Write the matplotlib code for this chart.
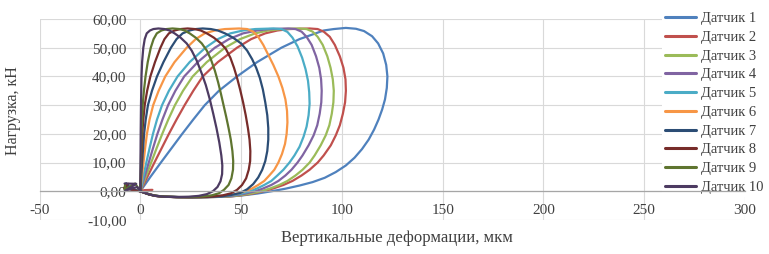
import matplotlib
matplotlib.use('Agg')
import matplotlib.pyplot as plt

plt.rcParams['font.family'] = ['Liberation Serif', 'DejaVu Serif']

# ---------------- data ----------------
labels = ['Датчик 1', 'Датчик 2', 'Датчик 3', 'Датчик 4', 'Датчик 5',
          'Датчик 6', 'Датчик 7', 'Датчик 8', 'Датчик 9', 'Датчик 10']
colors = ['#4F81BD', '#C0504D', '#9BBB59', '#8064A2', '#4BACC6',
          '#F79646', '#2C4D75', '#772C2A', '#5F7530', '#4D3B62']

x_ticks = [-50, 0, 50, 100, 150, 200, 250, 300]
x_tick_labels = ['-50', '0', '50', '100', '150', '200', '250', '300']
y_ticks = [-10, 0, 10, 20, 30, 40, 50, 60]
y_tick_labels = ['-10,00', '0,00', '10,00', '20,00', '30,00', '40,00', '50,00', '60,00']

# (deformation, load) points, one loop per sensor
s1_pts = [(0, 0), (5, 5), (10.2, 10), (15.5, 15), (20.8, 20), (26.3, 25), (32, 30), (39, 35),
          (48, 40), (58, 45), (70, 50), (79, 53), (87, 55), (91, 56), (96, 56.5), (102, 56.9),
          (107, 56.6), (111, 55.8), (115, 54), (118, 51.5), (120.5, 48), (122, 44), (122.6, 40),
          (122.3, 36), (121.4, 32), (120, 28.5), (118.2, 25), (116, 21.5), (113.3, 18),
          (110, 14.7), (106.3, 11.7), (102, 9), (97, 6.7), (91.5, 4.7), (85.5, 3.2), (79, 2),
          (72, 0.9), (65, 0), (58, -0.8), (51, -1.4), (43, -1.9),
          (35, -2.0), (28, -2.1), (20, -2.05), (13, -1.9), (8, -1.6), (4.5, -1.1), (2, -0.5), (0, 0)]

s2_pts = [(6, 0.5), (2, 0.4), (0, 0), (3.5, 5), (7, 10), (10.6, 15), (14.2, 20), (18, 25),
          (22, 30), (26.3, 35), (31, 40), (38.5, 45), (48, 50), (55, 53), (62, 55), (68, 56),
          (74, 56.5), (84, 56.7),
          (88, 56.5), (91, 55.6), (94, 53.8), (96.5, 51), (99, 47), (100.8, 43), (101.8, 39),
          (102, 35), (101.6, 31), (100.5, 27), (99, 23), (97, 19.5), (94.5, 16), (91, 12.5),
          (88, 10), (84, 7.5), (80, 5.5), (75.5, 3.6), (71, 2.2), (66, 1), (61, 0),
          (55, -0.9), (49, -1.5), (43, -1.9),
          (35, -2.0), (28, -2.1), (20, -2.05), (13, -1.9), (8, -1.6), (4.5, -1.1), (2, -0.5), (0, 0)]

s3_pts = [(0, 0), (2.7, 5), (5.4, 10), (8.1, 15), (10.9, 20), (13.9, 25), (17.2, 30), (21.2, 35),
          (26, 40), (33, 45), (42, 50), (49.5, 53), (57, 55), (63.5, 56), (70, 56.5), (79, 56.7),
          (82.5, 56.5), (85.5, 55.6), (88, 53.8), (90.5, 51), (92.8, 47), (94.4, 43), (95.5, 39),
          (96, 35), (95.8, 31), (95, 27), (93.8, 23), (92, 19.5), (89.5, 16), (86.5, 12.5),
          (84, 10), (80.5, 7.5), (77, 5.5), (73, 3.6), (69, 2.2), (64.5, 1), (60, 0),
          (54, -0.9), (48, -1.5), (42, -1.9),
          (35, -2.0), (28, -2.1), (20, -2.05), (13, -1.9), (8, -1.6), (4.5, -1.1), (2, -0.5), (0, 0)]

s4_pts = [(0, 0), (2.1, 5), (4.2, 10), (6.3, 15), (8.5, 20), (11, 25), (13.8, 30), (17.4, 35),
          (21.8, 40), (28.5, 45), (37, 50), (44, 53), (51, 55), (58, 56), (64, 56.5), (73.5, 56.7),
          (77, 56.5), (80, 55.6), (82.5, 53.8), (85, 51), (87.2, 47), (88.8, 43), (89.7, 39),
          (90, 35), (89.8, 31), (89, 27), (87.8, 23), (86, 19.5), (83.5, 16), (80.5, 12.5),
          (78, 10), (75, 7.5), (72, 5.5), (68.5, 3.6), (65, 2.2), (61, 1), (57, 0),
          (51.5, -0.9), (46, -1.5), (40, -1.9),
          (34, -2.0), (27, -2.1), (20, -2.05), (13, -1.9), (8, -1.6), (4.5, -1.1), (2, -0.5), (0, 0)]

s5_pts = [(0, 0), (1.5, 5), (3, 10), (4.6, 15), (6.3, 20), (8.3, 25), (10.8, 30), (14.2, 35),
          (18.5, 40), (24.5, 45), (32.3, 50), (38.5, 53), (44.7, 55), (51, 56), (57, 56.5), (66, 56.7),
          (70, 56.5), (73, 55.5), (75.5, 53.5), (78, 50.5), (80.3, 46.5), (82, 42.5), (83.2, 38.5),
          (83.8, 34.5), (84, 30.5), (83.5, 26.5), (82.5, 22.5), (81, 19), (79, 15.5), (76.5, 12.5),
          (74, 10), (71, 7.5), (68, 5.5), (65, 3.6), (61.5, 2.2), (58, 1), (54.5, 0),
          (49.5, -0.9), (44, -1.5), (38, -1.9),
          (32, -2.0), (26, -2.1), (20, -2.05), (13, -1.9), (8, -1.6), (4.5, -1.1), (2, -0.5), (0, 0)]

s6_pts = [(0, 0), (0.8, 5), (1.6, 10), (2.4, 15), (3.3, 20), (4.6, 25), (6.4, 30), (9.1, 35),
          (12.4, 40), (17, 45), (23, 50), (27.5, 53), (32, 55), (37, 56), (42, 56.5), (49, 56.7),
          (53, 56.5), (56, 55.6), (58.5, 53.8), (61, 51), (63.5, 47.5), (66, 44), (68.5, 40),
          (70.5, 36), (72, 32), (72.8, 28), (73, 24), (72.6, 20), (71.8, 16.5), (70.3, 13),
          (68.5, 10), (66.5, 7.5), (64, 5.5), (61.5, 3.6), (58.5, 2.2), (55.5, 1), (52, 0),
          (47.5, -0.9), (42, -1.5), (36, -1.9),
          (30, -2.05), (24, -2.1), (18, -2.05), (12, -1.9), (7.5, -1.6), (4.5, -1.1), (2, -0.5), (0, 0)]

s7_pts = [(-7, 2.8), (-4, 0.5), (-7.5, 1.5), (0, 0),
          (0.45, 5), (0.9, 10), (1.4, 15), (1.9, 20), (2.7, 25), (3.8, 30), (5.8, 35), (8.3, 40),
          (11.5, 45), (15.2, 50), (18, 53), (21, 55), (24.5, 56), (27.5, 56.5), (31, 56.7),
          (35, 56.5), (38.5, 56), (42, 55), (46, 53.5), (50, 51.5), (53, 49), (55.5, 46),
          (57.5, 43), (59.3, 39.5), (60.8, 35.5), (62, 31), (63, 26.5), (63.5, 22), (63.5, 18),
          (63, 14), (62, 10.5), (60.5, 7.5), (58.5, 4.8), (56, 2.5), (53, 0.7), (49.5, -0.6),
          (45, -1.3), (40, -1.8),
          (33, -2.0), (26, -2.1), (19, -2.05), (12, -1.9), (7.5, -1.6), (4.5, -1.1), (2, -0.5), (0, 0)]

s8_pts = [(-6, 2.6), (-8, 1.2), (-3, 0.3), (0, 0),
          (0.25, 5), (0.5, 10), (0.75, 15), (1.0, 20), (1.5, 25), (2.2, 30), (3.4, 35), (5, 40),
          (7.3, 45), (10, 50), (12, 53), (14.2, 55), (17, 56), (20, 56.5), (23.5, 56.7),
          (27, 56.5), (30, 56), (33, 55), (36.5, 53.5), (40, 51.5), (42.5, 49.5), (44.7, 46.5),
          (46.5, 43), (48, 39.5), (49.5, 35.5), (51, 31), (52.3, 26.5), (53.4, 22), (54.2, 18),
          (54.6, 14), (54.5, 10.5), (53.8, 7.5), (52.5, 4.5), (50.5, 2.2), (48, 0.5), (45, -0.7),
          (41, -1.4), (36, -1.8),
          (30, -2.0), (24, -2.05), (18, -2.0), (12, -1.9), (7.5, -1.6), (4.5, -1.1), (2, -0.5), (0, 0)]

s9_pts = [(-7.5, 2.5), (-7.8, 0.6), (-2.5, 2.7), (-0.5, 0.5), (0, 0),
          (0.15, 5), (0.3, 10), (0.45, 15), (0.6, 20), (0.9, 25), (1.2, 30), (1.8, 35), (2.6, 40),
          (3.7, 45), (5.2, 50), (6.6, 53), (8.2, 55), (10.5, 56), (13, 56.5), (16, 56.7),
          (19.5, 56.5), (22, 56), (24.5, 55), (27.5, 53.5), (30.5, 51.5), (33, 49), (35, 46),
          (37, 42), (38.6, 38), (40, 34), (41.3, 30), (42.6, 26), (43.8, 22), (44.9, 18),
          (45.7, 14), (46.1, 10.5), (46, 7.5), (45.2, 4.5), (43.8, 2.2), (41.5, 0.5), (39, -0.7),
          (35.5, -1.4), (31, -1.8),
          (25, -2.0), (19, -2.0), (13, -1.9), (8, -1.6), (4.5, -1.1), (2, -0.5), (0, 0)]

s10_pts = [(-7.8, 2.7), (-2, 2.6), (-7.5, 0.2), (-1.5, 1.5), (0, 0),
           (0.1, 10), (0.2, 20), (0.35, 30), (0.6, 40), (0.9, 45), (1.5, 50), (2.2, 53), (3.2, 55),
           (4.8, 56), (6.5, 56.5), (9, 56.7),
           (12, 56.5), (14.5, 56), (17, 55), (20, 53.5), (23, 51.5), (25.5, 49), (28, 45.5),
           (30.5, 41), (32.5, 37), (34.5, 32), (36.2, 27), (37.8, 22), (39.2, 17), (40.2, 12.5),
           (40.7, 9), (40.6, 6), (39.8, 3.5), (38.3, 1.5), (36, 0), (33, -1), (29, -1.6), (24, -1.9),
           (18, -2.0), (12, -1.9), (7.5, -1.6), (4.5, -1.1), (2, -0.5), (0, 0)]

series = [s1_pts, s2_pts, s3_pts, s4_pts, s5_pts, s6_pts, s7_pts, s8_pts, s9_pts, s10_pts]

# ---------------- figure ----------------
W, H = 769, 254
fig = plt.figure(figsize=(W / 100, H / 100), dpi=100)
fig.patch.set_facecolor('white')
ax = fig.add_axes([39.5 / W, 1 - 220 / H, (745 - 39.5) / W, (220 - 19) / H])

for pts, c, lab in zip(series, colors, labels):
    xs = [p[0] for p in pts]
    ys = [p[1] for p in pts]
    ax.plot(xs, ys, color=c, lw=1.6, label=lab,
            solid_joinstyle='round', solid_capstyle='round', zorder=3)

ax.set_xlim(-50, 300)
ax.set_ylim(-10, 60)
ax.set_xticks(x_ticks)
ax.set_xticklabels(x_tick_labels)
ax.set_yticks(y_ticks)
ax.set_yticklabels(y_tick_labels)

ax.grid(True, color='#D9D9D9', lw=0.8)
ax.set_axisbelow(True)

for s in ['top', 'right']:
    ax.spines[s].set_visible(False)
ax.spines['left'].set_position(('data', 0))
ax.spines['left'].set_color('none')
ax.spines['bottom'].set_position(('data', 0))
ax.spines['bottom'].set_color('#A6A6A6')
ax.spines['bottom'].set_linewidth(0.9)
ax.spines['bottom'].set_zorder(6)

ax.tick_params(axis='both', length=0, labelsize=11, colors='#404040')
ax.tick_params(axis='x', pad=9)
ax.tick_params(axis='y', pad=10)

fig.text(13 / W, 1 - 111 / H, 'Нагрузка, кН', rotation=90,
         ha='center', va='center', fontsize=11.5, color='#404040')
fig.text(397 / W, 1 - 238 / H, 'Вертикальные деформации, мкм',
         ha='center', va='center', fontsize=12, color='#404040')

leg = ax.legend(loc='upper left', bbox_to_anchor=(662 / W, 1 - 9 / H),
                bbox_transform=fig.transFigure, frameon=True, fancybox=False,
                facecolor='white', edgecolor='none', framealpha=1,
                fontsize=10.5, handlelength=2.1, handletextpad=0.4,
                labelspacing=0.38, borderpad=0.2, borderaxespad=0)
leg.set_zorder(5)
for t in leg.get_texts():
    t.set_color('#404040')
for l in leg.get_lines():
    l.set_linewidth(2.2)

fig.savefig('out.png', dpi=100)
